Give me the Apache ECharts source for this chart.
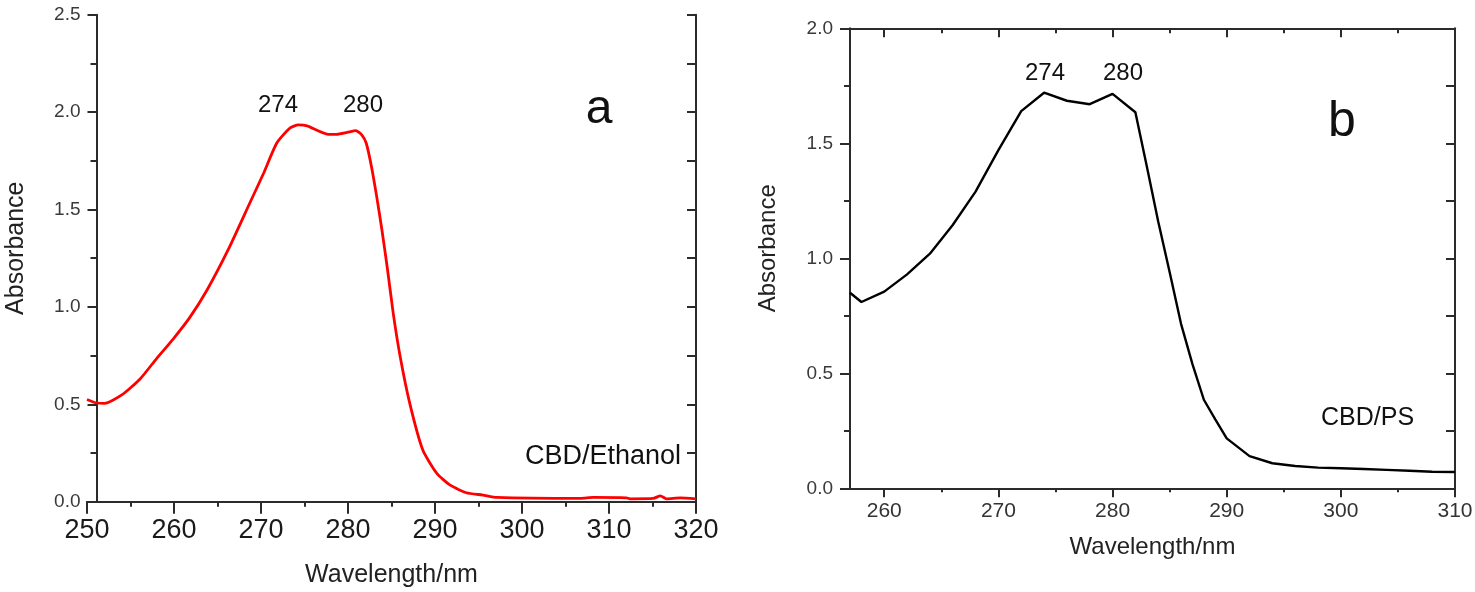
<!DOCTYPE html>
<html lang="en">
<head>
    <meta charset="UTF-8">
    <script src="https://cdnjs.cloudflare.com/ajax/libs/echarts/6.0.0/echarts.min.js"></script>
    <title>CBD absorbance</title>
    <style>
        html, body { margin: 0; padding: 0; background: #fff; }
    </style>
</head>
<body>

<div id="chart" style="width: 1475px;height: 592px"></div>

<script type="text/javascript">
    // panel a : CBD in ethanol (red)
    var wlA = [250, 251, 252, 254, 256.1, 258, 259.9, 261.8, 263.8, 266.2, 268.7, 270.3, 271.8, 273.3, 274.3, 275.3,
        277.7, 278.7, 279.9, 280.9, 281.6, 282.1, 282.7, 283.3, 283.9, 284.5, 285.2, 286, 287.1, 288.6,
        290.2, 291.7, 293.6, 295.5, 297.1, 306.7, 308.2, 312, 312.4, 315.1, 315.9, 316.6, 318.2, 320]
    var absA = [0.525, 0.508, 0.505, 0.548, 0.630, 0.735, 0.835, 0.945, 1.087, 1.291, 1.532, 1.686, 1.840, 1.917, 1.934, 1.929,
        1.886, 1.886, 1.896, 1.905, 1.882, 1.840, 1.72, 1.566, 1.395, 1.206, 0.967, 0.744, 0.505, 0.265,
        0.146, 0.086, 0.046, 0.034, 0.022, 0.017, 0.022, 0.02, 0.015, 0.017, 0.03, 0.015, 0.02, 0.015]

    // panel b : CBD in PS (black)
    var wlB = [257, 258, 260, 262, 264, 266, 268, 270, 272, 274, 276, 278, 280, 282, 283, 284, 285, 286,
        287, 288, 289, 290, 292, 294, 296, 298, 300, 302, 304, 306, 308, 310]
    var absB = [0.85, 0.81, 0.855, 0.93, 1.02, 1.145, 1.29, 1.47, 1.64, 1.72, 1.685, 1.67, 1.715, 1.635, 1.40, 1.16, 0.94, 0.715,
        0.54, 0.385, 0.30, 0.217, 0.14, 0.109, 0.097, 0.09, 0.087, 0.084, 0.08, 0.076, 0.072, 0.071]

    var ticksB = [260, 270, 280, 290, 300, 310]
    var minorTicksB = [265, 275, 285, 295, 305]

    var FONT = 'Liberation Sans, Arial, sans-serif'
    var AX = '#2b2b2b'
    var LW = 2

    function zip(xs, ys) {
        var out = []
        for (var i = 0; i < xs.length; i++) out.push([xs[i], ys[i]])
        return out
    }

    function line() {
        return { show: true, lineStyle: { color: AX, width: LW } }
    }

    function tick(inside, len, values) {
        var t = { show: true, inside: inside, length: len, lineStyle: { color: AX, width: LW } }
        if (values) t.customValues = values
        return t
    }

    function txt(t, x, y, size, align) {
        return {
            type: 'text', x: x, y: y,
            style: { text: t, fontSize: size, fontFamily: FONT, fill: '#111', align: align || 'center', verticalAlign: 'middle' }
        }
    }

    var myChart = echarts.init(document.getElementById('chart'));

    var option = {
        animation: false,
        backgroundColor: '#fff',
        grid: [
            { left: 87, top: 14.7, width: 609, height: 487, outerBoundsMode: 'none' },
            { left: 850, top: 28.3, width: 605, height: 460, outerBoundsMode: 'none' }
        ],
        xAxis: [
            // a bottom
            {
                gridIndex: 0, type: 'value', position: 'bottom', min: 250, max: 320, interval: 10,
                name: 'Wavelength/nm', nameLocation: 'middle', nameGap: 61,
                nameTextStyle: { fontSize: 25, fontFamily: FONT, color: '#222' },
                axisLine: line(),
                axisTick: tick(false, 9),
                minorTick: { show: true, splitNumber: 2, length: 4, lineStyle: { color: AX, width: LW } },
                axisLabel: { fontSize: 27, fontFamily: FONT, color: '#1a1a1a', margin: 15 },
                splitLine: { show: false }
            },
            // a top
            {
                gridIndex: 0, type: 'value', position: 'top', min: 250, max: 320, interval: 10,
                axisLine: line(),
                axisTick: tick(true, 12),
                minorTick: { show: true, splitNumber: 2, length: 5, lineStyle: { color: AX, width: LW } },
                axisLabel: { show: false },
                splitLine: { show: false }
            },
            // b bottom
            {
                gridIndex: 1, type: 'value', position: 'bottom', min: 257, max: 310,
                name: 'Wavelength/nm', nameLocation: 'middle', nameGap: 47,
                nameTextStyle: { fontSize: 24, fontFamily: FONT, color: '#222' },
                axisLine: line(),
                axisTick: tick(false, 9, ticksB),
                axisLabel: { fontSize: 21, fontFamily: FONT, color: '#333', margin: 12, customValues: ticksB },
                splitLine: { show: false }
            },
            {
                gridIndex: 1, type: 'value', position: 'bottom', min: 257, max: 310,
                axisLine: { show: false },
                axisTick: tick(false, 4, minorTicksB),
                axisLabel: { show: false },
                splitLine: { show: false }
            },
            // b top
            {
                gridIndex: 1, type: 'value', position: 'top', min: 257, max: 310,
                axisLine: line(),
                axisTick: tick(true, 9, ticksB),
                axisLabel: { show: false },
                splitLine: { show: false }
            },
            {
                gridIndex: 1, type: 'value', position: 'top', min: 257, max: 310,
                axisLine: { show: false },
                axisTick: tick(true, 5, minorTicksB),
                axisLabel: { show: false },
                splitLine: { show: false }
            }
        ],
        yAxis: [
            // a left
            {
                gridIndex: 0, type: 'value', position: 'left', offset: -9.5, min: 0, max: 2.5, interval: 0.5,
                name: 'Absorbance', nameLocation: 'middle', nameGap: 68,
                nameTextStyle: { fontSize: 25, fontFamily: FONT, color: '#222', padding: [0, 0, 0, 20] },
                axisLine: line(),
                axisTick: tick(false, 9),
                minorTick: { show: true, splitNumber: 2, length: 6, lineStyle: { color: AX, width: LW } },
                axisLabel: { fontSize: 19, fontFamily: FONT, color: '#3a3a3a', margin: 16, formatter: function (v) { return v.toFixed(1) } },
                splitLine: { show: false }
            },
            // a right
            {
                gridIndex: 0, type: 'value', position: 'right', min: 0, max: 2.5, interval: 0.25,
                axisLine: line(),
                axisTick: tick(true, 9),
                axisLabel: { show: false },
                splitLine: { show: false }
            },
            // b left
            {
                gridIndex: 1, type: 'value', position: 'left', min: 0, max: 2, interval: 0.5,
                name: 'Absorbance', nameLocation: 'middle', nameGap: 70,
                nameTextStyle: { fontSize: 24, fontFamily: FONT, color: '#222', padding: [0, 0, 0, 20] },
                axisLine: line(),
                axisTick: tick(false, 10),
                minorTick: { show: true, splitNumber: 2, length: 6, lineStyle: { color: AX, width: LW } },
                axisLabel: { fontSize: 19, fontFamily: FONT, color: '#3a3a3a', margin: 17, formatter: function (v) { return v.toFixed(1) } },
                splitLine: { show: false }
            },
            // b right
            {
                gridIndex: 1, type: 'value', position: 'right', min: 0, max: 2, interval: 0.25,
                axisLine: line(),
                axisTick: tick(true, 9),
                axisLabel: { show: false },
                splitLine: { show: false }
            }
        ],
        series: [
            {
                type: 'line', xAxisIndex: 0, yAxisIndex: 0, data: zip(wlA, absA),
                showSymbol: false, smooth: 0.2,
                lineStyle: { color: '#ff0000', width: 2.8 }
            },
            {
                type: 'line', xAxisIndex: 2, yAxisIndex: 2, data: zip(wlB, absB),
                showSymbol: false, smooth: false,
                lineStyle: { color: '#000', width: 2.4 }
            }
        ],
        graphic: [
            txt('274', 278, 105.5, 24),
            txt('280', 363, 105.5, 24),
            txt('a', 599, 110, 48),
            txt('CBD/Ethanol', 681, 456.5, 27, 'right'),
            txt('274', 1045, 73, 24),
            txt('280', 1123, 73, 24),
            txt('b', 1342, 122.5, 50),
            txt('CBD/PS', 1321, 418, 25, 'left')
        ]
    };

    myChart.setOption(option);
</script>
</body>
</html>
